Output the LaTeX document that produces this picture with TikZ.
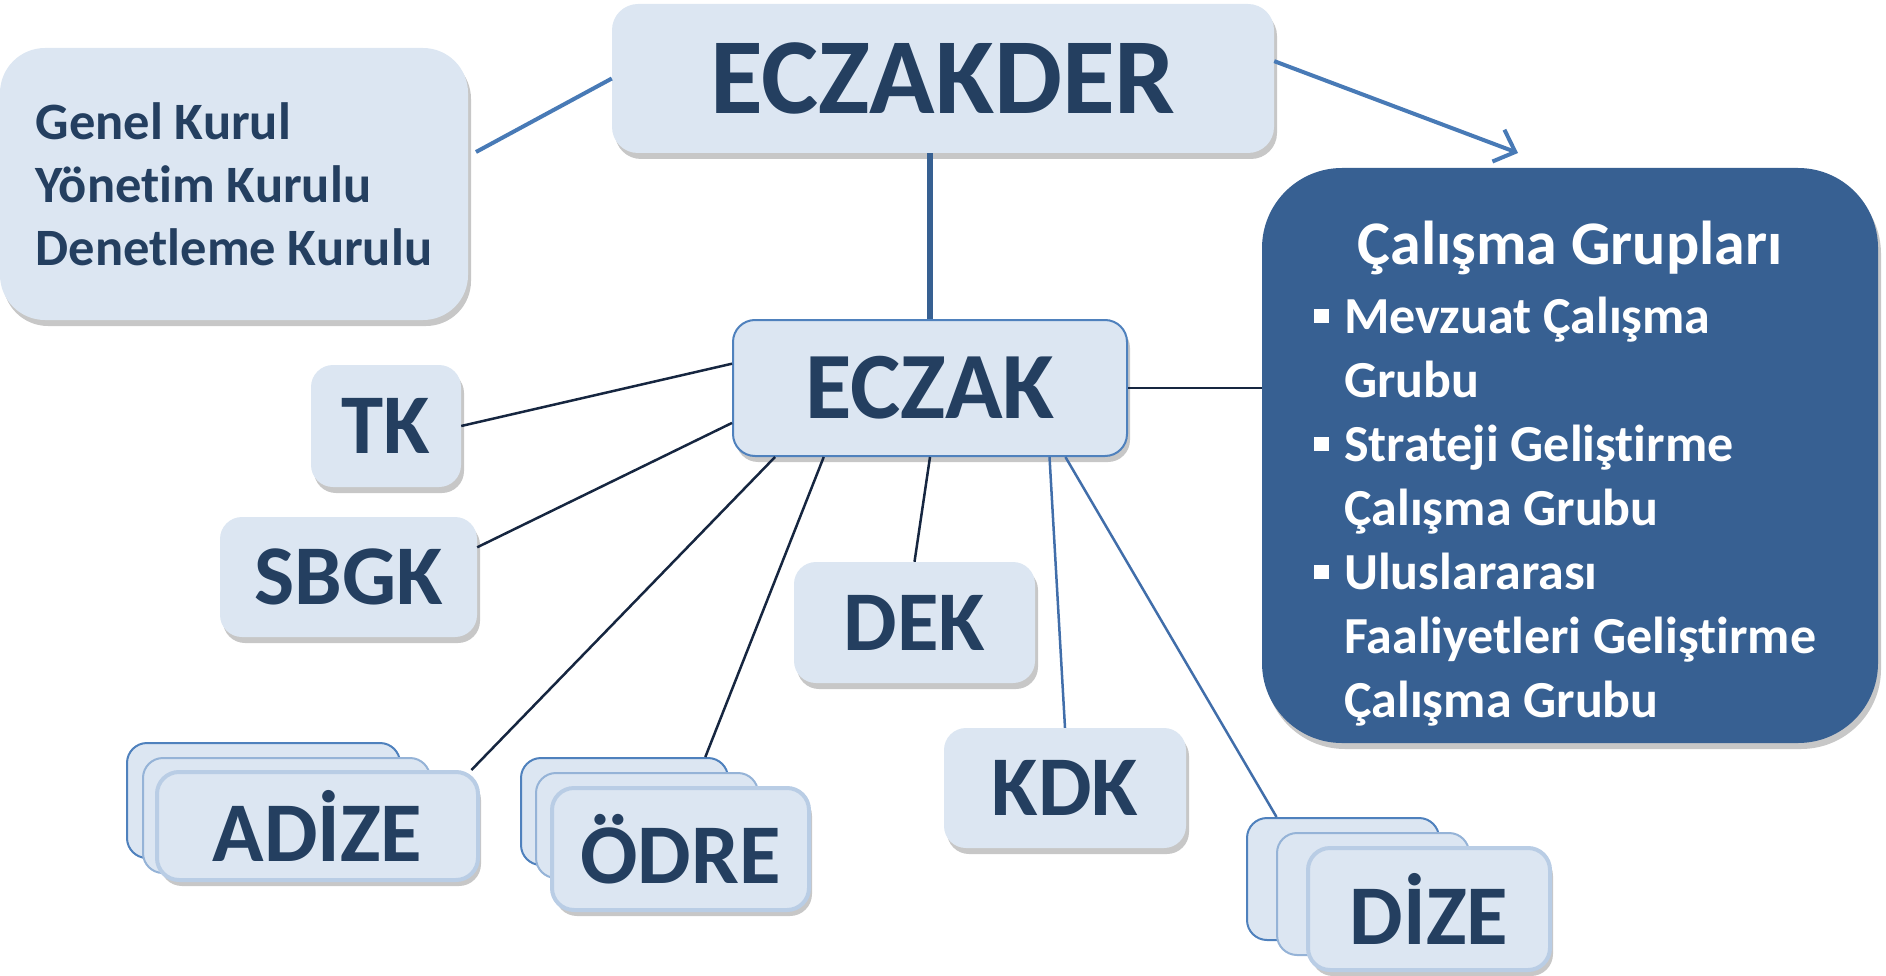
\documentclass[tikz,border=0pt]{standalone}
\usepackage{fontspec}
\setmainfont{Carlito}[Ligatures={NoCommon,NoContextual,NoRequired}]
\usetikzlibrary{arrows.meta, shadows, calc}

\definecolor{boxfill}{RGB}{220,230,242}
\definecolor{navytext}{RGB}{36,63,96}
\definecolor{groupfill}{RGB}{55,96,146}
\definecolor{edgeblue}{RGB}{79,129,189}
\definecolor{lightedge}{RGB}{149,179,215}
\definecolor{paleedge}{RGB}{185,205,229}
\definecolor{navyline}{RGB}{22,38,64}
\definecolor{linkblue}{RGB}{65,110,170}
\definecolor{boardblue}{RGB}{72,122,182}

\newcommand{\grpbullet}{\rule[10pt]{15pt}{14pt}\hspace{15pt}}

\tikzset{
  boxshadow/.style={drop shadow={shadow xshift=3pt, shadow yshift=-6pt, opacity=0.22, fill=black}},
  unit/.style={fill=boxfill, text=navytext, rounded corners=22pt, inner sep=0pt,
    font=\bfseries\fontsize{85}{95}\selectfont, boxshadow},
  stackback/.style={fill=boxfill, draw=edgeblue, line width=2pt, rounded corners=20pt, inner sep=0pt},
  stackmid/.style={fill=boxfill, draw=lightedge, line width=2pt, rounded corners=20pt, inner sep=0pt},
  stackfront/.style={unit, draw=paleedge, line width=4pt},
  navylink/.style={draw=navyline, line width=2.5pt},
  bluelink/.style={draw=linkblue, line width=2.5pt},
  boardlink/.style={draw=boardblue, line width=4pt},
  trunk/.style={draw=groupfill, line width=6pt},
  grouptext/.style={text=white, inner sep=0pt, font=\bfseries\fontsize{52}{64}\selectfont},
}

\begin{document}
\begin{tikzpicture}[x=1pt, y=-1pt]
    \useasboundingbox (0,0) rectangle (1886,976);

    % board
    \node (eczakder) at (943,78.5) [unit, minimum width=662pt, minimum height=149pt, rounded corners=26pt,
        font=\bfseries\fontsize{108}{120}\selectfont] {ECZAKDER};
    \node (kurul) at (234,184) [unit, minimum width=468pt, minimum height=272pt, rounded corners=45pt,
        align=left, font=\bfseries\fontsize{52.5}{63}\selectfont] {Genel Kurul\\Yönet\kern0pt im Kurulu\\Denetleme Kurulu};
    \node (eczak) at (930,388) [unit, draw=edgeblue, line width=2pt, minimum width=394pt, minimum height=136pt,
        font=\bfseries\fontsize{95}{105}\selectfont] {ECZAK};

    % working groups
    \node (calisma) at (1570,455.5) [fill=groupfill, rounded corners=80pt, minimum width=616pt, minimum height=575pt, boxshadow] {};
    \node (grptitle) at (1570,265) [grouptext, anchor=base, font=\bfseries\fontsize{62}{64}\selectfont] {Çalışma Grupları};
    \node (grp1) at (1314,333) [grouptext, anchor=base west] {\grpbullet Mevzuat Çalışma};
    \node (grp1b) at (1344,397) [grouptext, anchor=base west] {Grubu};
    \node (grp2) at (1314,461) [grouptext, anchor=base west] {\grpbullet Strateji Gelişt\kern0pt irme};
    \node (grp2b) at (1344,525) [grouptext, anchor=base west] {Çalışma Grubu};
    \node (grp3) at (1314,589) [grouptext, anchor=base west] {\grpbullet Uluslararası};
    \node (grp3b) at (1344,653) [grouptext, anchor=base west] {Faaliyetleri Gelişt\kern0pt irme};
    \node (grp3c) at (1344,717) [grouptext, anchor=base west] {Çalışma Grubu};

    % commissions
    \node (tk) at (386,426) [unit, minimum width=150pt, minimum height=122pt] {TK};
    \node (sbgk) at (348.5,577) [unit, minimum width=257pt, minimum height=120pt] {SBGK};
    \node (dek) at (914.5,622.5) [unit, minimum width=241pt, minimum height=121pt] {DEK};
    \node (kdk) at (1065,788) [unit, minimum width=242pt, minimum height=120pt] {KDK};

    \node (adize3) at (263.5,800.5) [stackback, minimum width=273pt, minimum height=115pt] {};
    \node (adize2) at (286.5,815.5) [stackmid, minimum width=287pt, minimum height=115pt] {};
    \node (adize) at (317.5,826) [stackfront, minimum width=321pt, minimum height=108pt] {ADİZE};

    \node (odre3) at (624.5,811.5) [stackback, minimum width=207pt, minimum height=107pt] {};
    \node (odre2) at (647,825.5) [stackmid, minimum width=222pt, minimum height=105pt] {};
    \node (odre) at (680.5,849) [stackfront, minimum width=257pt, minimum height=122pt] {ÖDRE};

    \node (dize3) at (1343,879) [stackback, minimum width=192pt, minimum height=122pt] {};
    \node (dize2) at (1373,894) [stackmid, minimum width=192pt, minimum height=122pt] {};
    \node (dize) at (1429,909) [stackfront, minimum width=242pt, minimum height=122pt] {DİZE};

    \coordinate (kurulend) at (476,152);
    \coordinate (arrowend) at (1518,153);

    \draw[boardlink] (eczakder.west) -- (kurulend);
    \draw[boardlink, -{Straight Barb[length=18pt, width=34pt]}] (eczakder.3) -- (arrowend);
    \draw[trunk] (eczak.north) -- (eczak.north |- eczakder.south);

    \draw[navylink] (tk.east) -- (eczak.173);
    \draw[navylink] (sbgk.13) -- (eczak.190);
    \draw[navylink] (adize.20) -- (eczak.204);
    \draw[navylink] (odre3.34) -- (eczak.213);
    \draw[navylink] (dek.north) -- (eczak.south);
    \draw[bluelink] (kdk.north) -- (eczak.330);
    \draw[bluelink] (dize3.137) -- (eczak.333);
    \draw[navylink] (eczak.east) -- (eczak.east -| calisma.west);
\end{tikzpicture}
\end{document}
